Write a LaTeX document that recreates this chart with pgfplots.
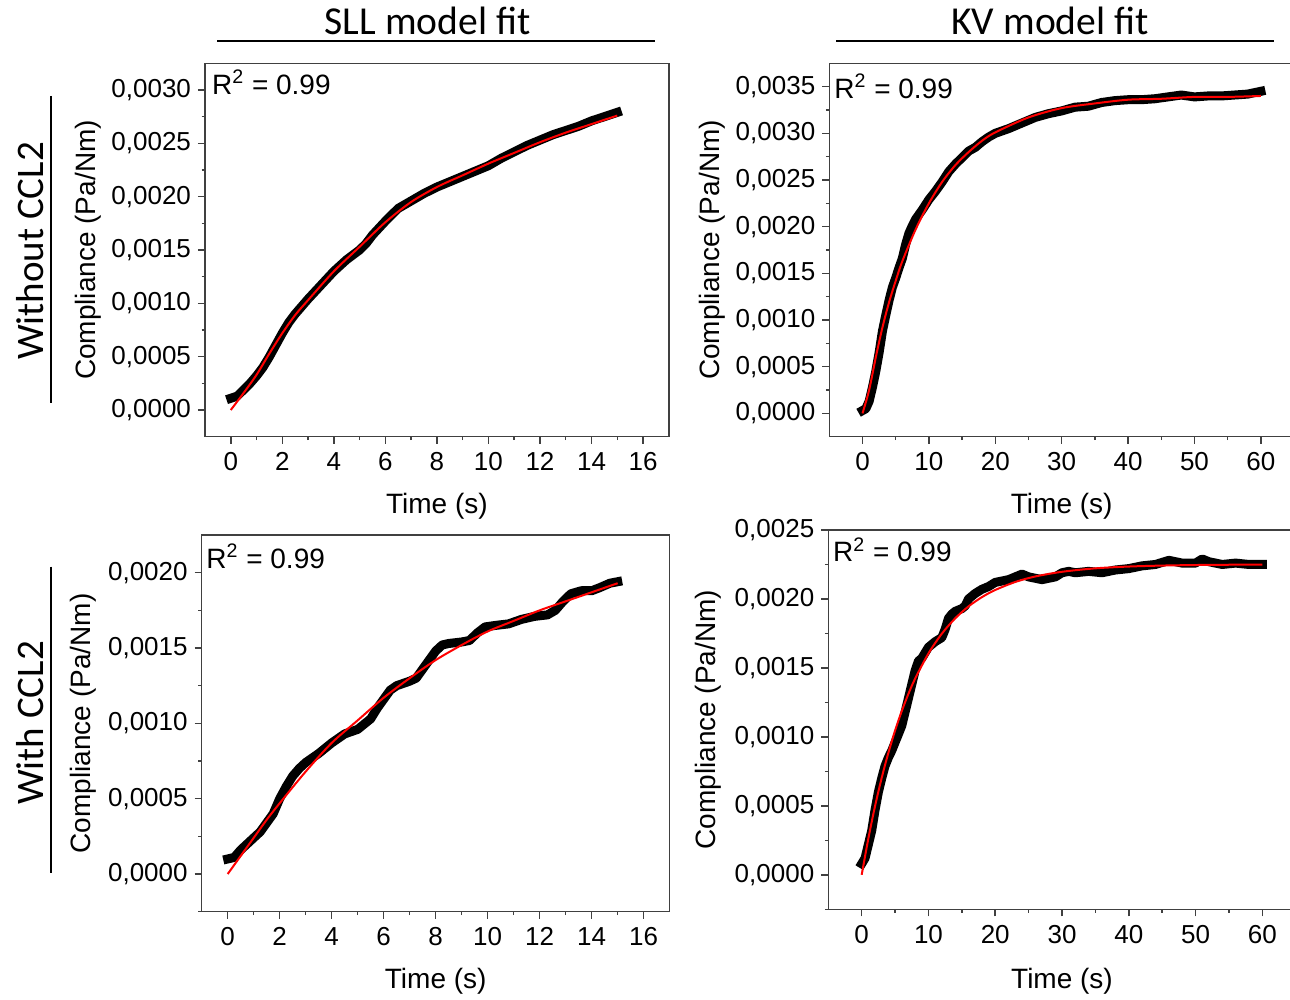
\documentclass[border=0pt]{standalone}
\usepackage{fontspec}
\setmainfont{Liberation Sans}
\newfontfamily\calibri{Carlito}
\usepackage{pgfplots}
\pgfplotsset{compat=1.18}
\pgfplotsset{
  panel/.style={
    scale only axis, anchor=south west,
    axis line style={black!75, line width=0.75pt},
    every tick/.style={black!75, line width=0.75pt},
    tick align=outside, xtick pos=bottom, ytick pos=left,
    major tick length=3.5pt, minor tick length=1.7pt,
    /pgf/number format/assume math mode=true,
    ticklabel style={font=\fontsize{13}{15}\selectfont},
    xticklabel style={yshift=-1pt},
    label style={font=\fontsize{14}{16}\selectfont},
    xlabel={Time (s)}, ylabel={Compliance (Pa/Nm)},
    scaled y ticks=false,
  },
  dat/.style={black, line width=4.5pt, line join=round, line cap=rect},
  fitl/.style={red, line width=1pt, smooth},
}
\tikzset{rs/.style={anchor=base west, inner sep=0pt, font=\fontsize{14}{16}\selectfont}}
\newcommand{\rsq}{R\textsuperscript{2} = 0.99}
\begin{document}
\begin{tikzpicture}
\useasboundingbox (0,0) rectangle (645pt,500pt);
% ---------- top left
\begin{axis}[panel, at={(102.5pt,281.65pt)}, width=231.9pt, height=186.7pt,
  xmin=-1, xmax=17, ymin=-0.00025, ymax=0.00325,
  xtick={0,2,...,16}, minor xtick={1,3,...,15},
  ytick={0,0.0005,0.001,0.0015,0.002,0.0025,0.003},
  yticklabels={{0,0000},{0,0005},{0,0010},{0,0015},{0,0020},{0,0025},{0,0030}},
  minor ytick={0.00025,0.00075,0.00125,0.00175,0.00225,0.00275},
  xlabel style={at={(axis description cs:0.5,-0.1856)}, anchor=center},
  ylabel style={at={(axis description cs:-0.2525,0.5)}, anchor=center}]
\addplot[dat] coordinates {(0,0.00011) (0.25,0.00013) (0.5,0.00019) (0.75,0.00025) (1,0.00032) (1.25,0.00040) (1.5,0.00050) (1.75,0.00061) (2,0.00072) (2.25,0.00082) (2.5,0.00090) (2.75,0.00097) (3,0.00104) (3.5,0.00117) (4,0.00130) (4.5,0.00141) (5,0.00150) (5.25,0.00156) (5.5,0.00164) (6,0.00177) (6.5,0.00189) (7,0.00196) (7.5,0.00203) (8,0.00209) (8.5,0.00214) (9,0.00219) (9.5,0.00224) (10,0.00229) (10.5,0.00236) (11,0.00242) (11.5,0.00248) (12,0.00253) (12.5,0.00258) (13,0.00262) (13.5,0.00266) (14,0.00271) (14.5,0.00275) (15,0.00279)};
\addplot[fitl] coordinates {(0,0) (0.5,0.00016) (1,0.00033) (1.5,0.00053) (2,0.00072) (2.5,0.00089) (3,0.00103) (4,0.00130) (5,0.00153) (6,0.00176) (7,0.00195) (8,0.00209) (9,0.00220) (10,0.00231) (11,0.00241) (12,0.00251) (13,0.00260) (14,0.00268) (15,0.00276)};
\node[rs] at (axis description cs:0.0145,0.917) {\rsq};
\end{axis}
% ---------- top right
\begin{axis}[panel, at={(414.65pt,281.65pt)}, width=232.4pt, height=186.7pt,
  xmin=-5, xmax=65, ymin=-0.00025, ymax=0.00375,
  xtick={0,10,...,60}, minor xtick={5,15,...,55},
  ytick={0,0.0005,0.001,0.0015,0.002,0.0025,0.003,0.0035},
  yticklabels={{0,0000},{0,0005},{0,0010},{0,0015},{0,0020},{0,0025},{0,0030},{0,0035}},
  minor ytick={0.00025,0.00075,0.00125,0.00175,0.00225,0.00275,0.00325},
  xlabel style={at={(axis description cs:0.5,-0.1856)}, anchor=center},
  ylabel style={at={(axis description cs:-0.2524,0.5)}, anchor=center}]
\addplot[dat] coordinates {(0,0.00003) (0.5,0.00005) (1,0.00013) (1.5,0.00028) (2,0.00045) (2.5,0.00065) (3,0.00088) (3.5,0.00105) (4,0.00121) (4.5,0.00135) (5,0.00145) (5.5,0.00156) (6,0.00166) (6.5,0.00181) (7,0.00193) (7.5,0.00201) (8,0.00208) (9,0.00218) (10,0.00229) (11,0.00238) (12,0.00248) (13,0.00259) (14,0.00267) (15,0.00274) (16,0.00281) (17,0.00285) (18,0.00291) (19,0.00296) (20,0.00300) (22,0.00305) (24,0.00311) (26,0.00317) (28,0.00321) (30,0.00324) (32,0.00328) (34,0.00329) (36,0.00333) (38,0.00335) (40,0.00336) (42,0.00336) (44,0.00337) (46,0.00339) (48,0.00341) (50,0.00339) (52,0.00340) (54,0.00340) (56,0.00341) (58,0.00342) (60,0.00345)};
\addplot[fitl] coordinates {(0,0) (1,0.00025) (2,0.00060) (3,0.00092) (4,0.00119) (5,0.00142) (6,0.00163) (8,0.00197) (10,0.00225) (12,0.00248) (14,0.00266) (16,0.00280) (18,0.00292) (20,0.00301) (25,0.00317) (30,0.00327) (35,0.00332) (40,0.00336) (45,0.00337) (50,0.00339) (55,0.00339) (60,0.00340)};
\node[rs] at (axis description cs:0.010,0.906) {\rsq};
\end{axis}
% ---------- bottom left
\begin{axis}[panel, at={(100.85pt,44.15pt)}, width=234pt, height=188.35pt,
  xmin=-1, xmax=17, ymin=-0.00025, ymax=0.00225,
  xtick={0,2,...,16}, minor xtick={1,3,...,15},
  ytick={0,0.0005,0.001,0.0015,0.002},
  yticklabels={{0,0000},{0,0005},{0,0010},{0,0015},{0,0020}},
  minor ytick={-0.00025,0.00025,0.00075,0.00125,0.00175},
  xlabel style={at={(axis description cs:0.5,-0.184)}, anchor=center},
  ylabel style={at={(axis description cs:-0.2536,0.5)}, anchor=center}]
\addplot[dat] coordinates {(0,0.00010) (0.25,0.00011) (0.5,0.00016) (0.75,0.00020) (1,0.00024) (1.25,0.00028) (1.5,0.00034) (1.75,0.00040) (2,0.00050) (2.25,0.00058) (2.5,0.00065) (2.75,0.00070) (3,0.00074) (3.5,0.00080) (4,0.00087) (4.5,0.00093) (5,0.00096) (5.5,0.00103) (5.75,0.00110) (6,0.00116) (6.25,0.00122) (6.5,0.00125) (7,0.00128) (7.25,0.00130) (7.5,0.00136) (7.75,0.00142) (8,0.00148) (8.25,0.00152) (8.5,0.00153) (9,0.00154) (9.3,0.00155) (9.6,0.00160) (9.9,0.00164) (10.3,0.00165) (10.8,0.00166) (11.3,0.00169) (11.8,0.00171) (12.3,0.00172) (12.6,0.00175) (12.9,0.00181) (13.2,0.00186) (13.6,0.00188) (14,0.00188) (14.3,0.00190) (14.7,0.00193) (15,0.00194)};
\addplot[fitl] coordinates {(0,0) (0.5,0.00012) (1,0.00024) (1.5,0.00036) (2,0.00047) (3,0.00068) (4,0.00087) (5,0.00102) (6,0.00117) (7,0.00130) (8,0.00142) (9,0.00152) (10,0.00161) (11,0.00168) (12,0.00175) (13,0.00181) (14,0.00187) (15,0.00193)};
\node[rs] at (axis description cs:0.0092,0.9116) {\rsq};
\end{axis}
% ---------- bottom right
\begin{axis}[panel, at={(414.15pt,45.35pt)}, width=233.7pt, height=189.65pt,
  xmin=-5, xmax=65, ymin=-0.00025, ymax=0.0025,
  xtick={0,10,...,60}, minor xtick={5,15,...,55},
  ytick={0,0.0005,0.001,0.0015,0.002,0.0025},
  yticklabels={{0,0000},{0,0005},{0,0010},{0,0015},{0,0020},{0,0025}},
  minor ytick={-0.00025,0.00025,0.00075,0.00125,0.00175,0.00225},
  xlabel style={at={(axis description cs:0.5,-0.189)}, anchor=center},
  ylabel style={at={(axis description cs:-0.2574,0.5)}, anchor=center}]
\addplot[dat] coordinates {(0,0.00008) (0.5,0.00012) (1,0.00022) (1.5,0.00032) (2,0.00047) (2.5,0.00060) (3,0.00070) (3.5,0.00079) (4,0.00085) (4.5,0.00090) (5,0.00096) (5.5,0.00102) (6,0.00108) (6.5,0.00118) (7,0.00128) (7.5,0.00138) (8,0.00148) (8.5,0.00155) (9,0.00157) (9.5,0.00161) (10,0.00165) (11,0.00169) (12,0.00172) (12.5,0.00178) (13,0.00186) (13.5,0.00189) (14,0.00191) (15,0.00193) (15.5,0.00195) (16,0.00200) (17,0.00204) (18,0.00207) (19,0.00209) (20,0.00212) (21,0.00213) (22,0.00214) (23,0.00216) (24,0.00218) (25,0.00216) (26,0.00215) (27,0.00214) (28,0.00215) (29,0.00216) (30,0.00219) (31,0.00220) (32,0.00219) (34,0.00220) (36,0.00219) (38,0.00221) (40,0.00222) (42,0.00224) (44,0.00225) (46,0.00228) (48,0.00226) (50,0.00226) (51,0.00229) (52,0.00227) (54,0.00225) (56,0.00226) (58,0.00225) (60,0.00225)};
\addplot[fitl] coordinates {(0,0) (1,0.000264) (2,0.000498) (3,0.000704) (4,0.000885) (5,0.001046) (6,0.001187) (7,0.001312) (8,0.001422) (10,0.001605) (12,0.001748) (14,0.001859) (16,0.001946) (18,0.002013) (20,0.002065) (23,0.002123) (26,0.002163) (30,0.002197) (35,0.002222) (40,0.002235) (45,0.002242) (50,0.002246) (55,0.002248) (60,0.002249)};
\node[rs] at (axis description cs:0.0094,0.9164) {\rsq};
\end{axis}
% ---------- headings
\node[anchor=base, font=\calibri\fontsize{19.8}{22}\selectfont] at (213.75pt,482.5pt) {SLL model fit};
\draw[line width=0.75pt] (108.5pt,479.5pt) -- (327.5pt,479.5pt);
\node[anchor=base, font=\calibri\fontsize{19.8}{22}\selectfont] at (525pt,482.5pt) {KV model fit};
\draw[line width=0.75pt] (418pt,479.5pt) -- (637pt,479.5pt);
\node[anchor=base, rotate=90, font=\calibri\fontsize{19.5}{22}\selectfont] at (21.5pt,374.5pt) {Without CCL2};
\draw[line width=0.75pt] (25.5pt,452pt) -- (25.5pt,298.65pt);
\node[anchor=base, rotate=90, font=\calibri\fontsize{19.5}{22}\selectfont] at (21.5pt,138.5pt) {With CCL2};
\draw[line width=0.75pt] (25.5pt,216.65pt) -- (25.5pt,63.35pt);
\end{tikzpicture}
\end{document}
